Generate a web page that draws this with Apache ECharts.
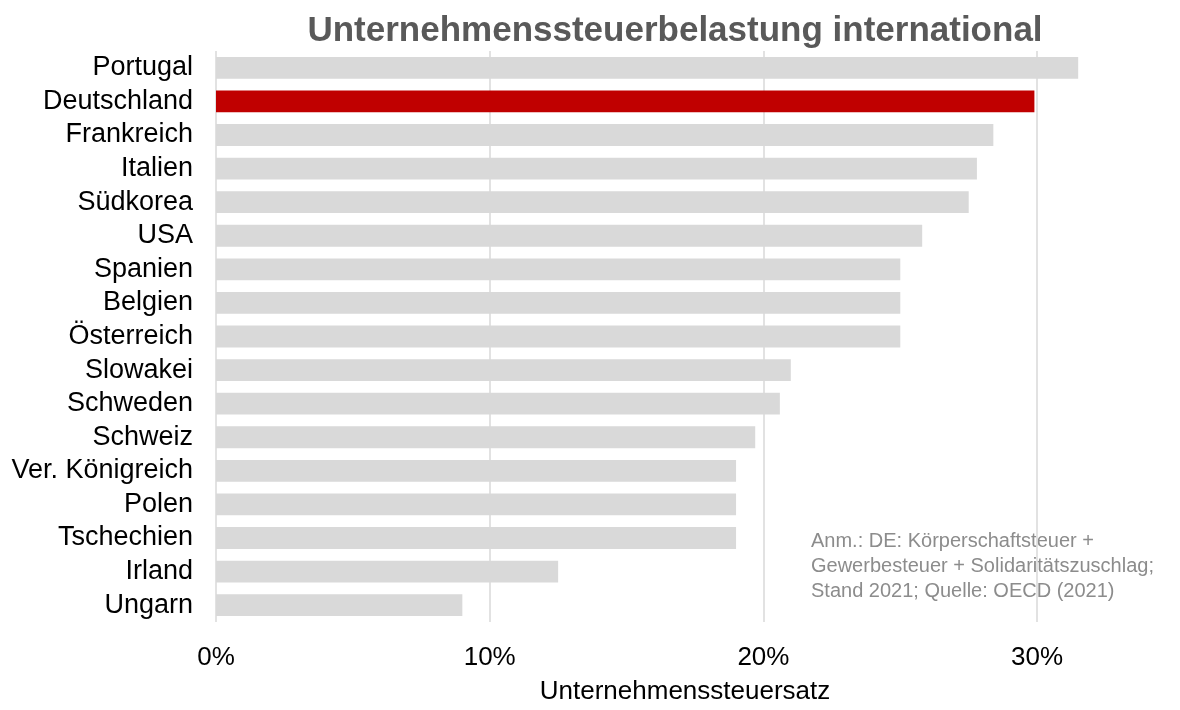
<!DOCTYPE html>
<html>
<head>
<meta charset="utf-8">
<script src="https://cdn.jsdelivr.net/npm/echarts@6/dist/echarts.min.js"></script>
<style>
  html, body { margin: 0; padding: 0; background: #fff; }
  #chart { width: 1180px; height: 710px; }
</style>
</head>
<body>
<div id="chart"></div>
<script>
// Daten (von oben nach unten)
var laender = ['Portugal', 'Deutschland', 'Frankreich', 'Italien', 'Südkorea', 'USA', 'Spanien',
    'Belgien', 'Österreich', 'Slowakei', 'Schweden', 'Schweiz', 'Ver. Königreich', 'Polen',
    'Tschechien', 'Irland', 'Ungarn'];
var steuersatz = [31.5, 29.9, 28.4, 27.8, 27.5, 25.8, 25, 25, 25, 21, 20.6, 19.7, 19, 19, 19, 12.5, 9];
var hervorheben = 'Deutschland';
var anmerkung = ['Anm.: DE: Körperschaftsteuer +', 'Gewerbesteuer + Solidaritätszuschlag;', 'Stand 2021; Quelle: OECD (2021)'];

var myChart = echarts.init(document.getElementById('chart'));

var balken = laender.map(function (l, i) {
    return {
        value: steuersatz[i],
        itemStyle: { color: l === hervorheben ? '#c00000' : '#d9d9d9' }
    };
});

var option = {
    backgroundColor: '#fff',
    animation: false,
    title: {
        text: 'Unternehmenssteuerbelastung international',
        left: 670,
        textAlign: 'center',
        top: 9,
        textStyle: { fontFamily: 'Liberation Sans', fontSize: 35, fontWeight: 'bold', color: '#595959' }
    },
    grid: { left: 216, right: 6, top: 51, bottom: 83 },
    xAxis: {
        type: 'value',
        min: 0,
        max: 35,
        interval: 10,
        name: 'Unternehmenssteuersatz',
        nameLocation: 'middle',
        nameGap: 57,
        nameTextStyle: { fontFamily: 'Liberation Sans', fontSize: 26, color: '#000', padding: [0, 20, 0, 0] },
        axisLine: { show: false },
        axisTick: { show: false },
        axisLabel: {
            margin: 23,
            fontFamily: 'Liberation Sans', fontSize: 26, color: '#000',
            formatter: function (v) { return v % 10 === 0 ? v + '%' : ''; }
        },
        splitLine: {
            lineStyle: { color: ['#d9d9d9', '#d9d9d9', '#d9d9d9', '#d9d9d9', 'rgba(0,0,0,0)'], width: 1.5 }
        }
    },
    yAxis: {
        type: 'category',
        inverse: true,
        data: laender,
        axisLine: { show: false },
        axisTick: { show: false },
        axisLabel: { interval: 0, margin: 23, fontFamily: 'Liberation Sans', fontSize: 27, color: '#000' }
    },
    series: [{
        type: 'bar',
        data: balken,
        barCategoryGap: '35%'
    }],
    graphic: [{
        type: 'text',
        left: 811,
        top: 529,
        style: {
            text: anmerkung.join('\n'),
            fontFamily: 'Liberation Sans',
            fontSize: 20,
            lineHeight: 25,
            fill: '#8c8c8c'
        }
    }]
};

myChart.setOption(option);
</script>
</body>
</html>
